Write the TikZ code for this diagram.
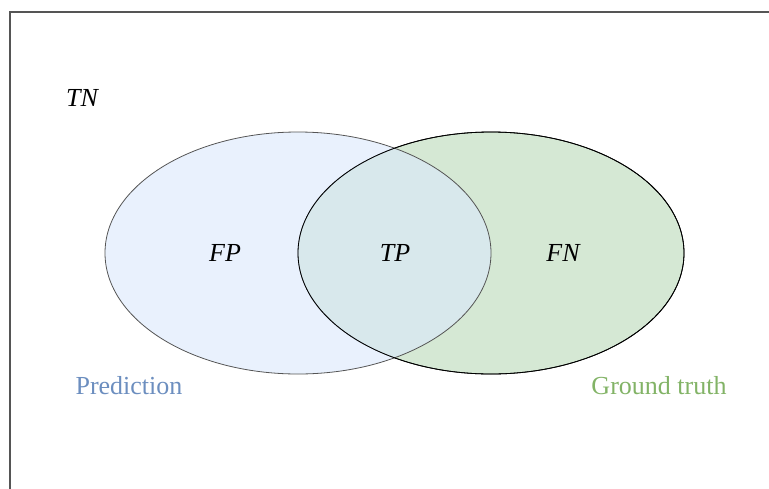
\documentclass[tikz,border=0pt]{standalone}
\usepackage{fontspec}
\setmainfont{Liberation Serif}
\usetikzlibrary{shapes.geometric}
\definecolor{predfill}{HTML}{DAE8FC}
\definecolor{predline}{HTML}{555555}
\definecolor{predtext}{HTML}{6C8EBF}
\definecolor{gtfill}{HTML}{D5E8D4}
\definecolor{gttext}{HTML}{82B366}
\definecolor{framegray}{HTML}{555555}
\tikzset{
  setellipse/.style={ellipse, minimum width=386pt, minimum height=242pt, inner sep=0pt, line width=0.8pt},
  region/.style={font=\fontsize{26}{30}\selectfont\itshape, text=black},
  caption/.style={font=\fontsize{26}{30}\selectfont},
}
\begin{document}
\begin{tikzpicture}[x=1pt,y=-1pt]
  \useasboundingbox (0,0) rectangle (769,488);
  \clip (0,0) rectangle (769,488);
  % outer frame (extends past the right and bottom edges)
  \draw[framegray, line width=1.4pt] (10,540) -- (10,12) -- (820,12);
  % ground truth set
  \node[setellipse, draw=black, fill=gtfill] (gt) at (491,253) {};
  % prediction set, translucent over the ground truth
  \node[setellipse, draw=predline, fill=predfill, fill opacity=0.6] (pred) at (298,253) {};
  % re-stroke the ground truth outline on top
  \draw[black, line width=0.8pt] (gt.center) ellipse [x radius=193, y radius=121];
  % region labels
  \node[region] (tn) at (82,98) {TN};
  \node[region] (fp) at (225,253) {FP};
  \node[region] (tp) at (395,253) {TP};
  \node[region] (fn) at (563,253) {FN};
  % set captions
  \node[caption, text=predtext] (predlabel) at (129,386) {Prediction};
  \node[caption, text=gttext] (gtlabel) at (659,386) {Ground truth};
\end{tikzpicture}
\end{document}
